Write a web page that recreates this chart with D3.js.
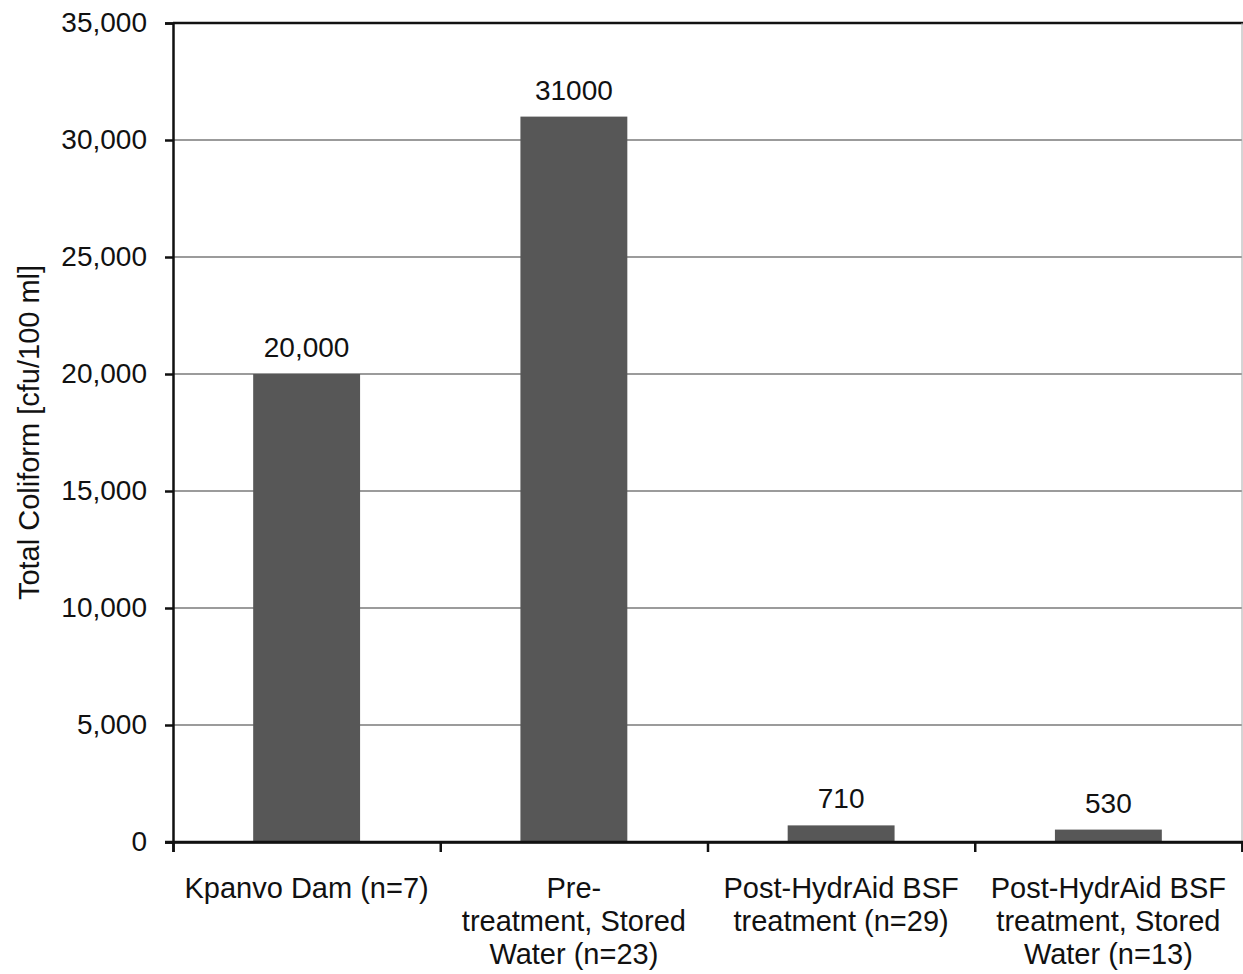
<!DOCTYPE html>
<html>
<head>
<meta charset="utf-8">
<script src="https://cdn.jsdelivr.net/npm/d3@7"></script>
<style>
  html, body { margin: 0; padding: 0; background: #fff; }
  svg { display: block; font-family: "Liberation Sans", Arial, sans-serif; }
</style>
</head>
<body>
<svg id="chart" width="1243" height="974"></svg>
<script>
const categories = [
  ["Kpanvo Dam (n=7)"],
  ["Pre-", "treatment, Stored", "Water (n=23)"],
  ["Post-HydrAid BSF", "treatment (n=29)"],
  ["Post-HydrAid BSF", "treatment, Stored", "Water (n=13)"]
];
const values = [20000, 31000, 710, 530];
const valueLabels = ["20,000", "31000", "710", "530"];
const yTicks = [0, 5000, 10000, 15000, 20000, 25000, 30000, 35000];
const yTitle = "Total Coliform [cfu/100 ml]";

const svg = d3.select("#chart");
const m = { left: 173, right: 1242, top: 23, bottom: 842 };
const keys = categories.map((c, i) => i);

const x = d3.scaleBand().domain(keys).range([m.left, m.right]).paddingInner(0.6).paddingOuter(0.3);
const y = d3.scaleLinear().domain([0, 35000]).range([m.bottom, m.top]);

// gridlines
svg.append("g").selectAll("line").data(yTicks.filter(t => t > 0 && t < 35000)).join("line")
  .attr("x1", m.left).attr("x2", m.right)
  .attr("y1", d => y(d)).attr("y2", d => y(d))
  .attr("stroke", "#7a7a7a").attr("stroke-width", 1.3);

// top border & right border
svg.append("line").attr("x1", m.left).attr("x2", m.right + 1).attr("y1", y(35000)).attr("y2", y(35000))
  .attr("stroke", "#111").attr("stroke-width", 2.5);
svg.append("line").attr("x1", m.right).attr("x2", m.right).attr("y1", m.top).attr("y2", m.bottom)
  .attr("stroke", "#aaa").attr("stroke-width", 1);

// bars
svg.append("g").selectAll("rect").data(values).join("rect")
  .attr("x", (d, i) => x(i))
  .attr("width", x.bandwidth())
  .attr("y", d => y(d))
  .attr("height", d => y(0) - y(d))
  .attr("fill", "#575757");

// value labels
svg.append("g").selectAll("text").data(values).join("text")
  .attr("x", (d, i) => x(i) + x.bandwidth() / 2)
  .attr("y", d => y(d) - 17)
  .attr("text-anchor", "middle")
  .attr("font-size", 28)
  .attr("fill", "#111")
  .text((d, i) => valueLabels[i]);

// y axis
const yAxis = d3.axisLeft(y).tickValues(yTicks).tickSize(8).tickPadding(18)
  .tickFormat(d3.format(","));
const gy = svg.append("g").attr("transform", `translate(${m.left},0)`).call(yAxis);
gy.select(".domain").attr("stroke", "#111").attr("stroke-width", 2.5);
gy.selectAll(".tick line").attr("stroke", "#111").attr("stroke-width", 2.5);
gy.selectAll(".tick text").attr("font-size", 28).attr("fill", "#111")
  .attr("font-family", "Liberation Sans, Arial, sans-serif");

// x axis (ticks at band boundaries)
const xb = d3.scaleLinear().domain([0, 4]).range([m.left, m.right]);
const gx = svg.append("g").attr("transform", `translate(0,${m.bottom})`)
  .call(d3.axisBottom(xb).ticks(4).tickSize(10).tickFormat(""));
gx.select(".domain").attr("stroke", "#111").attr("stroke-width", 2.5);
gx.selectAll(".tick line").attr("stroke", "#111").attr("stroke-width", 2.5);
svg.append("line").attr("x1", m.left - 8).attr("x2", m.right + 1).attr("y1", m.bottom).attr("y2", m.bottom)
  .attr("stroke", "#111").attr("stroke-width", 2.5);

// category labels
const lab = svg.append("g").selectAll("text").data(categories).join("text")
  .attr("text-anchor", "middle")
  .attr("font-size", 29)
  .attr("fill", "#111")
  .attr("transform", (d, i) => `translate(${x(i) + x.bandwidth() / 2},${m.bottom + 56})`);
lab.selectAll("tspan").data(d => d).join("tspan")
  .attr("x", 0).attr("dy", (d, i) => i === 0 ? 0 : 33)
  .text(d => d);

// y title
svg.append("text")
  .attr("transform", `translate(39,${(m.top + m.bottom) / 2}) rotate(-90)`)
  .attr("text-anchor", "middle")
  .attr("font-size", 29)
  .attr("fill", "#111")
  .text(yTitle);
</script>
</body>
</html>
